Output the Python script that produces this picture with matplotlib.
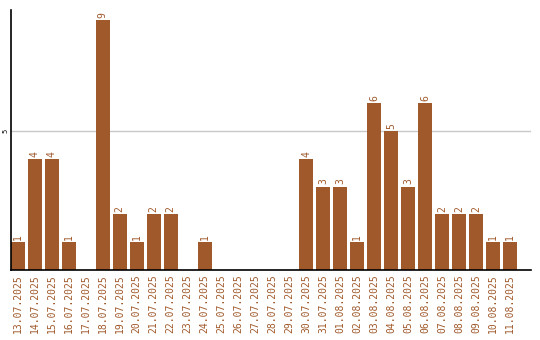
import numpy as np
import matplotlib.pyplot as plt

dates = ['13.07.2025', '14.07.2025', '15.07.2025', '16.07.2025', '17.07.2025',
         '18.07.2025', '19.07.2025', '20.07.2025', '21.07.2025', '22.07.2025',
         '23.07.2025', '24.07.2025', '25.07.2025', '26.07.2025', '27.07.2025',
         '28.07.2025', '29.07.2025', '30.07.2025', '31.07.2025', '01.08.2025',
         '02.08.2025', '03.08.2025', '04.08.2025', '05.08.2025', '06.08.2025',
         '07.08.2025', '08.08.2025', '09.08.2025', '10.08.2025', '11.08.2025']
counts = [1, 4, 4, 1, 0, 9, 2, 1, 2, 2,
          0, 1, 0, 0, 0, 0, 0, 4, 3, 3,
          1, 6, 5, 3, 6, 2, 2, 2, 1, 1]

bar_color = '#A0592B'

fig = plt.figure(figsize=(5.4, 3.4), dpi=100)
ax = fig.add_axes([11/540, 1 - 270/340, 520/540, 260/340])

x = np.arange(len(dates))
ax.bar(x, counts, width=0.82, color=bar_color, zorder=2)

for xi, v in zip(x, counts):
    if v > 0:
        ax.text(xi, v + 0.08, str(v), rotation=90, ha='center', va='bottom',
                color=bar_color, fontsize=7, family='DejaVu Sans Mono')

ax.set_xlim(-0.41, 30.24)
ax.set_ylim(0, 9.35)
ax.set_yticks([5])
ax.set_yticklabels(['5'], rotation=90, va='center', fontsize=5,
                   family='DejaVu Sans Mono')
ax.yaxis.grid(True, color='#c8c8c8', linewidth=1, zorder=0)
ax.set_xticks(x)
ax.set_xticklabels(dates, rotation=90, fontsize=7, color=bar_color,
                   family='DejaVu Sans Mono')
ax.tick_params(axis='both', length=0, pad=3)
ax.tick_params(axis='y', pad=1.5)

ax.spines['top'].set_visible(False)
ax.spines['right'].set_visible(False)
ax.spines['left'].set_linewidth(1.2)
ax.spines['bottom'].set_linewidth(1.2)

fig.savefig('out.png', dpi=100)
plt.close()
